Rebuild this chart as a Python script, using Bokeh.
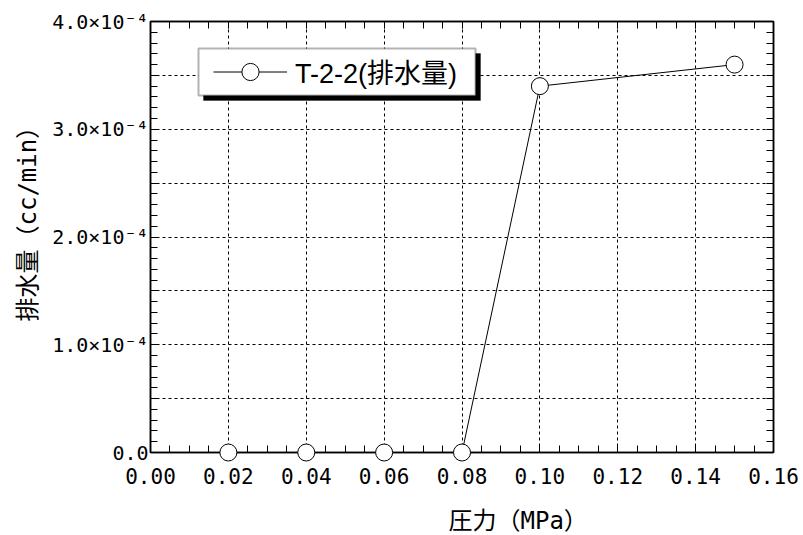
from bokeh.plotting import figure
from bokeh.models import (Range1d, FixedTicker, LinearAxis, CustomJSTickFormatter,
                          Legend, LegendItem, BoxAnnotation, Grid, Title)
from bokeh.embed import file_html
from bokeh.resources import INLINE

# Drainage rate against applied pressure
pressure = [0.02, 0.04, 0.06, 0.08, 0.10, 0.15]          # MPa
drainage = [0.0, 0.0, 0.0, 0.0, 3.4e-4, 3.6e-4]        # cc/min
series_name = "T-2-2(排水量)"
x_title = "圧力（MPa）"
y_title = "排水量（cc/min）"

x_major = [0.0, 0.02, 0.04, 0.06, 0.08, 0.10, 0.12, 0.14, 0.16]
x_minor = [i * 0.005 for i in range(33)]
y_major = [i * 0.5e-4 for i in range(9)]
y_minor = [i * 0.1e-4 for i in range(41)]

MONO = "'DejaVu Sans Mono', 'Noto Sans CJK JP'"

p = figure(width=803, height=535, output_backend="svg", toolbar_location=None,
           x_range=Range1d(0, 0.16), y_range=Range1d(0, 4e-4),
           x_axis_type=None, y_axis_type=None,
           min_border_left=150, min_border_right=30,
           min_border_top=21, min_border_bottom=83)
p.background_fill_color = "white"
p.border_fill_color = "white"
p.outline_line_color = "black"
p.outline_line_width = 1.5

xt = FixedTicker(ticks=x_major, minor_ticks=x_minor)
yt = FixedTicker(ticks=y_major, minor_ticks=y_minor)

x_fmt = CustomJSTickFormatter(code="return tick.toFixed(2);")
y_fmt = CustomJSTickFormatter(code="""
const v = tick * 1e4;
if (Math.abs(v) < 1e-9) return "0.0";
if (Math.abs(v - Math.round(v)) > 1e-6) return "";
return v.toFixed(1) + "\u00d710\u207b\u2074";
""")
blank = CustomJSTickFormatter(code="return '';")


def style(ax, labels=True):
    ax.axis_line_color = "black"
    ax.axis_line_width = 1.5
    ax.major_tick_in = 7
    ax.major_tick_out = 0
    ax.minor_tick_in = 7
    ax.minor_tick_out = 0
    ax.major_tick_line_color = "black"
    ax.minor_tick_line_color = "black"
    if not labels:
        ax.major_label_text_font_size = "0px"
        ax.major_label_standoff = 0


xb = LinearAxis(ticker=xt, formatter=x_fmt)
style(xb)
xb.major_label_text_font = MONO
xb.major_label_text_font_size = "21px"
xb.major_label_text_color = "black"
xb.major_label_standoff = 15
# blank axis label used only as spacing above the title
xb.axis_label = " "
xb.axis_label_text_font_size = "1px"
xb.axis_label_standoff = 14
p.add_layout(xb, "below")

yl = LinearAxis(ticker=yt, formatter=y_fmt)
style(yl)
yl.major_label_text_font = MONO
yl.major_label_text_font_size = "20px"
yl.major_label_text_color = "black"
yl.major_label_standoff = 2
p.add_layout(yl, "left")

xa = LinearAxis(ticker=xt, formatter=blank)
style(xa, labels=False)
p.add_layout(xa, "above")
yr = LinearAxis(ticker=yt, formatter=blank)
style(yr, labels=False)
p.add_layout(yr, "right")

for g in (Grid(dimension=0, ticker=xt), Grid(dimension=1, ticker=yt)):
    g.grid_line_color = "black"
    g.grid_line_dash = "3 3"
    g.grid_line_width = 1
    p.add_layout(g)

line_r = p.line(pressure, drainage, line_color="black", line_width=1)
# overlay level keeps the markers resting on the axis whole
pts_r = p.scatter(pressure, drainage, marker="circle", size=17,
                  fill_color="white", line_color="black", line_width=1,
                  level="overlay")

# Legend frame with a drop shadow (screen px from the frame's bottom-left)
scr = dict(left_units="screen", right_units="screen",
           bottom_units="screen", top_units="screen")
shadow = BoxAnnotation(left=53, right=330, bottom=352, top=399,
                       fill_color="black", fill_alpha=1, line_color="black", **scr)
frame_box = BoxAnnotation(left=48, right=325, bottom=357, top=404,
                          fill_color="white", fill_alpha=1,
                          line_color="black", line_width=2, **scr)
p.add_layout(shadow)
p.add_layout(frame_box)

legend = Legend(items=[LegendItem(label=series_name, renderers=[line_r, pts_r])],
                location=(63, 359), padding=0, margin=0, spacing=0,
                glyph_width=74, glyph_height=43, label_height=43,
                label_standoff=8,
                label_text_font="'Liberation Sans', 'Noto Sans CJK JP'",
                label_text_font_size="27px", label_text_color="black",
                background_fill_alpha=0, border_line_alpha=0)
p.add_layout(legend)

# Axis titles
xt_title = Title(text=x_title, align="left", offset=298, standoff=0,
                 text_font=MONO, text_font_size="24px", text_font_style="normal",
                 text_color="black")
p.add_layout(xt_title, "below")
yt_title = Title(text=y_title, align="left", offset=131, standoff=16,
                 text_font=MONO, text_font_size="24px", text_font_style="normal",
                 text_color="black")
p.add_layout(yt_title, "left")

open("out.html", "w").write(file_html(p, INLINE))
